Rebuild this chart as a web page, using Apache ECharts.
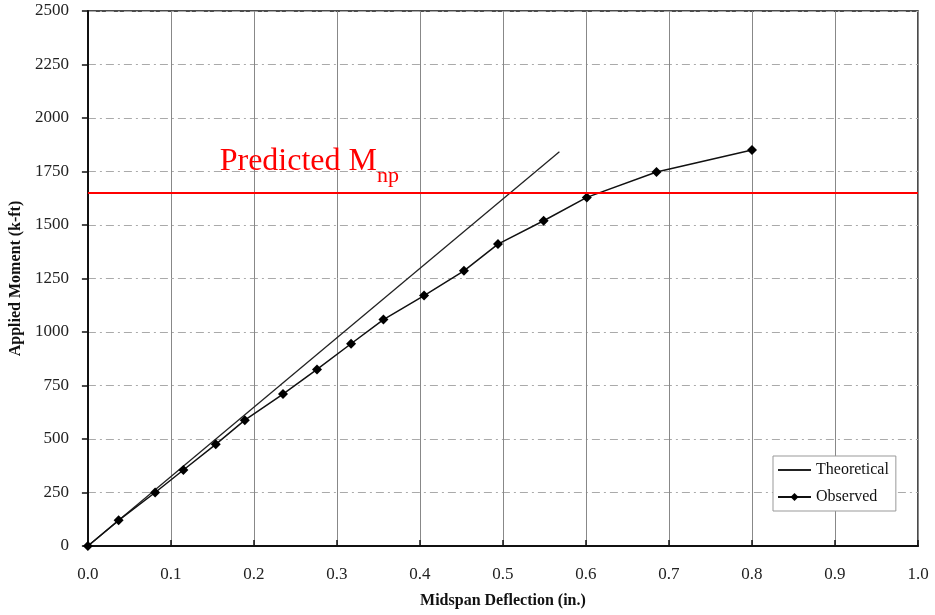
<!DOCTYPE html>
<html>
<head>
<meta charset="utf-8">
<script src="https://cdn.jsdelivr.net/npm/echarts@6/dist/echarts.min.js"></script>
<style>
  html, body { margin: 0; padding: 0; background: #fff; }
  #chart { width: 935px; height: 615px; }
</style>
</head>
<body>
<div id="chart"></div>
<script>
// Midspan deflection (in.) vs applied moment (k-ft)
const observedDeflection = [0, 0.037, 0.081, 0.115, 0.154, 0.189, 0.235, 0.276, 0.317, 0.356, 0.405, 0.453, 0.494, 0.549, 0.601, 0.685, 0.800];
const observedMoment     = [0, 120, 250, 355, 475, 588, 710, 825, 945, 1058, 1170, 1286, 1411, 1520, 1629, 1748, 1850];

const theoreticalDeflection = [0, 0.568];
const theoreticalMoment     = [0, 1842];

const predictedMnp = 1650;
const labelAnchor = [0.16, 1650];

const xTicks = [0, 0.1, 0.2, 0.3, 0.4, 0.5, 0.6, 0.7, 0.8, 0.9, 1.0];
const yTicks = [0, 250, 500, 750, 1000, 1250, 1500, 1750, 2000, 2250, 2500];

const serif = '"Liberation Serif", "Times New Roman", serif';

const pair = (xs, ys) => xs.map((x, i) => [x, ys[i]]);

const chart = echarts.init(document.getElementById('chart'));

chart.setOption({
  animation: false,
  backgroundColor: '#fff',
  grid: {
    left: 86, right: 17, top: 11, bottom: 69,
    show: true, borderColor: '#111', borderWidth: 1.5
  },
  legend: {
    show: true,
    left: 773,
    top: 456,
    orient: 'vertical',
    itemGap: 11,
    itemWidth: 33,
    itemHeight: 10,
    padding: [6, 7, 6, 4],
    backgroundColor: '#fff',
    borderColor: '#999',
    borderWidth: 1,
    textStyle: { fontFamily: serif, fontSize: 16, color: '#111' },
    data: [
      { name: 'Theoretical', itemStyle: { opacity: 0 } },
      { name: 'Observed' }
    ]
  },
  xAxis: {
    type: 'value',
    min: 0, max: 1.0, interval: 0.1,
    name: 'Midspan Deflection (in.)',
    nameLocation: 'middle', nameGap: 47,
    nameTextStyle: { fontFamily: serif, fontSize: 16, fontWeight: 'bold', color: '#111' },
    axisLine: { show: true, onZero: false, lineStyle: { color: '#111', width: 2 } },
    axisTick: { show: true, inside: true, length: 6, lineStyle: { color: '#111', width: 1.5 } },
    axisLabel: {
      fontFamily: serif, fontSize: 17, color: '#222', margin: 20,
      formatter: v => xTicks.includes(Math.round(v * 10) / 10) ? (Math.round(v * 10) / 10).toFixed(1) : ''
    },
    splitLine: { show: true, lineStyle: { color: '#888', width: 1 } }
  },
  yAxis: {
    type: 'value',
    min: 0, max: 2500, interval: 250,
    name: 'Applied Moment (k-ft)',
    nameLocation: 'middle', nameGap: 55,
    nameTextStyle: { fontFamily: serif, fontSize: 16, fontWeight: 'bold', color: '#111' },
    axisLine: { show: true, onZero: false, lineStyle: { color: '#111', width: 2 } },
    axisTick: { show: true, inside: false, length: 6, lineStyle: { color: '#111', width: 1.5 } },
    axisLabel: {
      fontFamily: serif, fontSize: 17, color: '#222', margin: 19,
      formatter: v => yTicks.includes(v) ? String(v) : ''
    },
    splitLine: { show: true, lineStyle: { color: '#aaa', width: 1, type: [8, 4, 2, 4] } }
  },
  series: [
    {
      name: 'Theoretical',
      type: 'line',
      data: pair(theoreticalDeflection, theoreticalMoment),
      symbol: 'none',
      lineStyle: { color: '#222', width: 1.3 },
      itemStyle: { color: '#222' },
      z: 3,
      markLine: {
        silent: true,
        symbol: ['none', 'none'],
        lineStyle: { color: '#ff0000', width: 2, type: 'solid' },
        label: { show: false },
        data: [{ yAxis: predictedMnp }]
      }
    },
    {
      name: 'Observed',
      type: 'line',
      data: pair(observedDeflection, observedMoment),
      symbol: 'diamond',
      symbolSize: 10,
      showAllSymbol: true,
      lineStyle: { color: '#111', width: 1.5 },
      itemStyle: { color: '#000' },
      z: 4
    }
  ]
});

// "Predicted M_np" caption placed just above the predicted moment line
const anchorPx = chart.convertToPixel({ gridIndex: 0 }, labelAnchor);
chart.setOption({
  graphic: [{
    type: 'text',
    left: anchorPx[0] - 1,
    top: anchorPx[1] - 47,
    style: {
      text: '{a|Predicted M}{b|np}',
      rich: {
        a: { fontFamily: serif, fontSize: 32, fill: '#ff0000', verticalAlign: 'bottom' },
        b: { fontFamily: serif, fontSize: 22, fill: '#ff0000', verticalAlign: 'bottom', padding: [0, 0, -9, 0] }
      }
    }
  }]
});
</script>
</body>
</html>
